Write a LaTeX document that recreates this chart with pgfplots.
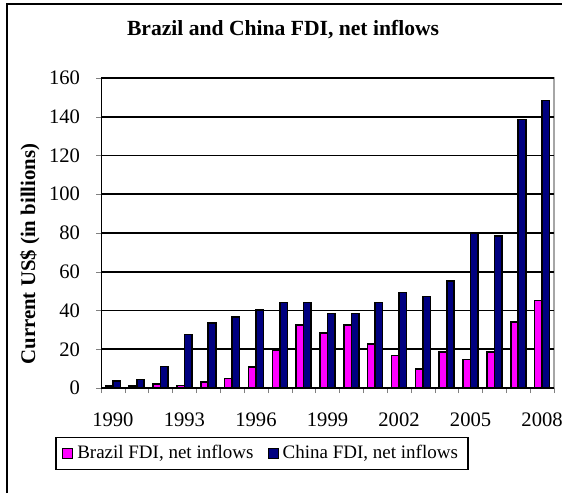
\documentclass[border=0pt]{standalone}
\usepackage{pgfplots}
\pgfplotsset{compat=1.18}
\usepackage{fontspec}
\setmainfont{Liberation Serif}
\definecolor{brz}{RGB}{255,0,255}
\definecolor{chn}{RGB}{0,0,128}
\pgfplotsset{sqlegend/.style={legend image code/.code={\draw[##1,line width=0.6pt,draw=black] (0pt,-2.5pt) rectangle (5pt,2.5pt);}}}
\begin{document}
\begin{tikzpicture}
\useasboundingbox (0pt,0pt) rectangle (281pt,246.5pt);
\draw[line width=0.6pt] (3.5pt,0pt) -- (3.5pt,244.5pt) -- (281pt,244.5pt);
\draw[gray!70, line width=0.8pt] (50.5pt,207.5pt) -- (277pt,207.5pt) -- (277pt,52.5pt);
\begin{axis}[
  at={(50.5pt,52.5pt)}, anchor=south west, scale only axis,
  width=226.5pt, height=155pt,
  ybar=0pt, bar width=3.75pt,
  xmin=1989.5, xmax=2008.5, ymin=0, ymax=160,
  axis x line*=bottom, axis y line*=left,
  xtick={1989.5,1990.5,...,2008.5}, xticklabels={},
  extra x ticks={1990,1993,1996,1999,2002,2005,2008},
  extra x tick labels={1990,1993,1996,1999,2002,2005,2008},
  extra x tick style={major tick length=0pt, xticklabel style={yshift=-9pt}},
  ytick={0,20,...,160},
  tick align=outside, major tick length=2.5pt,
  ymajorgrids=true,
  major grid style={black, line width=0.8pt},
  yticklabel style={xshift=-4.5pt},
  /pgf/number format/assume math mode=true,
  tick label style={font=\fontsize{10.3}{12}\selectfont},
  title={Brazil and China FDI, net inflows},
  title style={at={(axis description cs:0.402,1.119)}, anchor=center, font=\fontsize{10.8}{13}\selectfont\bfseries},
  ylabel={Current US\$ (in billions)},
  ylabel style={at={(axis description cs:-0.157,0.432)}, anchor=center, font=\fontsize{10.4}{12}\selectfont\bfseries},
  legend columns=2,
  legend style={at={(0.3554,-0.2113)}, anchor=center, draw=black, line width=0.6pt,
    font=\fontsize{9.5}{11}\selectfont, inner xsep=3pt, inner ysep=2.6pt,
    nodes={inner xsep=2pt, inner ysep=1.5pt},
    /tikz/every even column/.append style={column sep=5pt}},
  legend cell align=left,
]
\addplot[fill=brz, draw=black, line width=0.8pt, sqlegend] coordinates {
(1990,1.0) (1991,1.1) (1992,2.1) (1993,1.3) (1994,3.1) (1995,4.9) (1996,10.7)
(1997,19.4) (1998,32.5) (1999,28.4) (2000,32.5) (2001,22.7) (2002,16.7)
(2003,9.8) (2004,18.6) (2005,14.8) (2006,18.6) (2007,34.2) (2008,45.2)};
\addplot[fill=chn, draw=black, line width=0.8pt, sqlegend] coordinates {
(1990,3.5) (1991,4.4) (1992,11.2) (1993,27.7) (1994,33.5) (1995,36.5) (1996,40.4)
(1997,44.2) (1998,44.2) (1999,38.4) (2000,38.4) (2001,44.2) (2002,49.2)
(2003,47.3) (2004,55.2) (2005,79.8) (2006,78.6) (2007,138.5) (2008,148.3)};
\legend{{Brazil FDI, net inflows}, {China FDI, net inflows}}
\end{axis}
\end{tikzpicture}
\end{document}
